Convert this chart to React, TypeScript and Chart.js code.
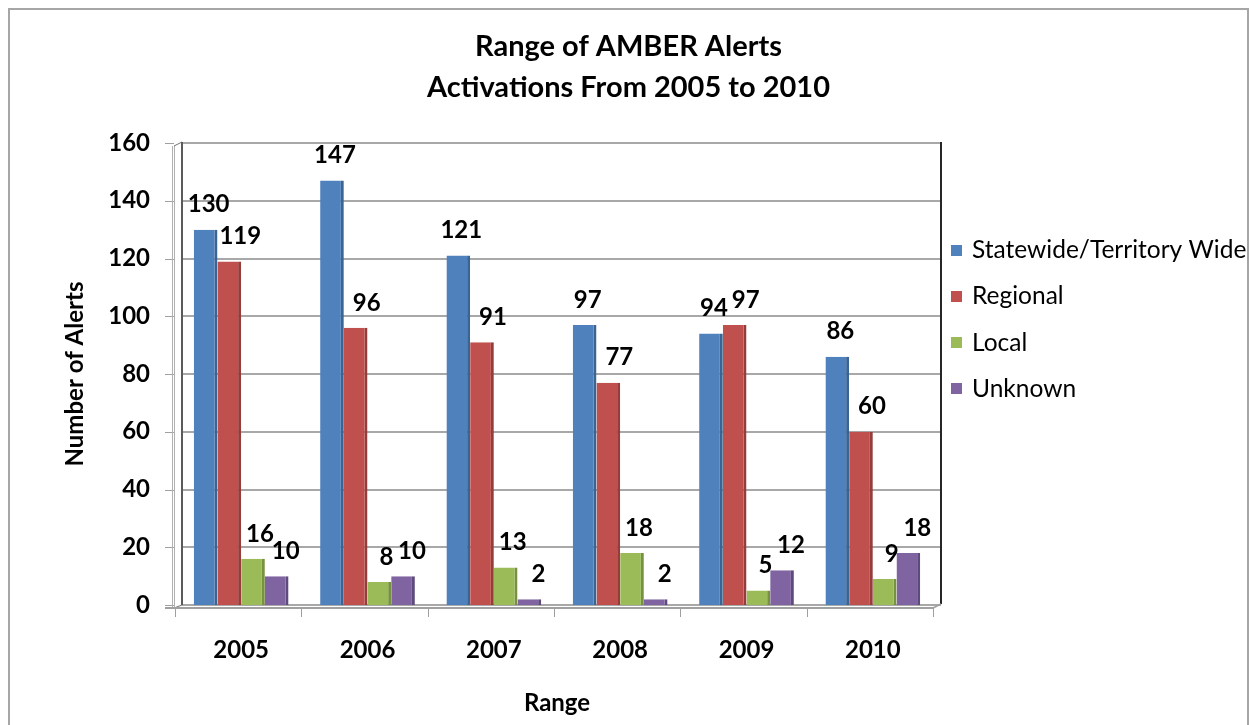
import React, { useEffect, useRef } from 'react';
import { Chart, registerables } from 'chart.js';

Chart.register(...registerables);

// ---- data ----
const categories = ['2005', '2006', '2007', '2008', '2009', '2010'];
const seriesNames = ['Statewide/Territory Wide', 'Regional', 'Local', 'Unknown'];
const statewide = [130, 147, 121, 97, 94, 86];
const regional = [119, 96, 91, 77, 97, 60];
const local = [16, 8, 13, 18, 5, 9];
const unknown = [10, 10, 2, 2, 12, 18];
const yMin = 0;
const yMax = 160;
const yStep = 20;
const titleLines = ['Range of AMBER Alerts', 'Activations From 2005 to 2010'];
const xTitle = 'Range';
const yTitle = 'Number of Alerts';

// ---- styles ----
const fillColors = ['#4F81BD', '#C0504D', '#9BBB59', '#8064A2'];
const sideColors = ['#3A6491', '#963C3A', '#77923F', '#5E4A7D'];
const labelShiftX = [3, 11, 7, 9];
const FONT = 'Lato, "Open Sans", sans-serif';
const CANVAS_W = 1237;
const CANVAS_H = 715;

const wallPlugin = {
  id: 'wall3d',
  beforeDatasetsDraw(chart: any) {
    const { ctx, chartArea } = chart;
    const { left: L, right: R, top: T, bottom: B } = chartArea;
    const ys = chart.scales.y;
    const xs = chart.scales.x;
    ctx.save();
    // back wall gridlines
    ctx.strokeStyle = '#a8a8a8';
    ctx.lineWidth = 2;
    ys.ticks.forEach((t: any) => {
      const y = Math.round(ys.getPixelForValue(t.value));
      ctx.beginPath();
      ctx.moveTo(L + 4, y);
      ctx.lineTo(R + 5, y);
      ctx.stroke();
    });
    // y tick marks
    ctx.strokeStyle = '#a0a0a0';
    ctx.lineWidth = 1;
    ys.ticks.forEach((t: any) => {
      const y = Math.round(ys.getPixelForValue(t.value)) + 0.5;
      ctx.beginPath();
      ctx.moveTo(L - 13, y);
      ctx.lineTo(L - 4, y);
      ctx.stroke();
    });
    // side wall front edges
    ctx.strokeStyle = '#b0b0b0';
    ctx.beginPath();
    ctx.moveTo(L - 5.5, T + 3);
    ctx.lineTo(L - 5.5, B + 3);
    ctx.moveTo(L - 3.5, T + 3);
    ctx.lineTo(L - 3.5, B + 3);
    ctx.stroke();
    // side wall diagonals
    ctx.strokeStyle = '#707070';
    ctx.beginPath();
    ctx.moveTo(L - 4, T + 3);
    ctx.lineTo(L + 4, T - 1);
    ctx.moveTo(L - 4, B + 3);
    ctx.lineTo(L + 4, B);
    ctx.stroke();
    // back wall left and right edges
    ctx.strokeStyle = '#5a5a5a';
    ctx.lineWidth = 2;
    ctx.beginPath();
    ctx.moveTo(L + 4, T - 1);
    ctx.lineTo(L + 4, B);
    ctx.stroke();
    ctx.strokeStyle = '#262626';
    ctx.beginPath();
    ctx.moveTo(R + 5, T - 1);
    ctx.lineTo(R + 5, B - 1);
    ctx.stroke();
    // floor front edge
    ctx.strokeStyle = '#a0a0a0';
    ctx.beginPath();
    ctx.moveTo(L - 13, B + 3);
    ctx.lineTo(R - 3, B + 3);
    ctx.stroke();
    ctx.lineWidth = 1.5;
    ctx.beginPath();
    ctx.moveTo(R - 3, B + 3);
    ctx.lineTo(R + 5, B - 1);
    ctx.stroke();
    // x tick marks at category boundaries (front plane)
    ctx.strokeStyle = '#a0a0a0';
    ctx.lineWidth = 1;
    const n = categories.length;
    const cw = (xs.right - xs.left) / n;
    for (let i = 0; i <= n; i++) {
      const x = Math.round(xs.left + i * cw - 3) + 0.5;
      ctx.beginPath();
      ctx.moveTo(x, B + 3);
      ctx.lineTo(x, B + 12);
      ctx.stroke();
    }
    ctx.restore();
  },
};

const labelPlugin = {
  id: 'valueLabels',
  afterDatasetsDraw(chart: any) {
    const { ctx } = chart;
    ctx.save();
    ctx.font = `bold 24px ${FONT}`;
    ctx.fillStyle = '#000';
    ctx.textAlign = 'center';
    ctx.textBaseline = 'middle';
    chart.data.datasets.forEach((ds: any, i: number) => {
      const meta = chart.getDatasetMeta(i);
      meta.data.forEach((bar: any, j: number) => {
        ctx.fillText(String(ds.data[j]), bar.x + labelShiftX[i], bar.y - 25);
      });
    });
    ctx.restore();
  },
};

const legendPlugin = {
  id: 'sideLegend',
  afterDraw(chart: any) {
    const { ctx, chartArea } = chart;
    ctx.save();
    ctx.font = `24.5px ${FONT}`;
    ctx.textAlign = 'left';
    ctx.textBaseline = 'middle';
    chart.data.datasets.forEach((ds: any, i: number) => {
      const y = chartArea.top + 107 + i * 46.3;
      ctx.fillStyle = ds.backgroundColor;
      ctx.fillRect(chartArea.right + 15, Math.round(y - 5.5), 11, 11);
      ctx.fillStyle = '#000';
      ctx.fillText(ds.label, chartArea.right + 36, y);
    });
    ctx.restore();
  },
};

export default function App() {
  const ref = useRef<HTMLCanvasElement | null>(null);

  useEffect(() => {
    if (!ref.current) return;
    const seriesValues = [statewide, regional, local, unknown];
    const chart = new Chart(ref.current, {
      type: 'bar',
      data: {
        labels: categories,
        datasets: seriesNames.map((name, i) => ({
          label: name,
          data: seriesValues[i],
          backgroundColor: fillColors[i],
          borderColor: sideColors[i],
          borderWidth: { top: 0, right: 3, bottom: 0, left: 0 },
          borderSkipped: false,
          categoryPercentage: 0.75,
          barPercentage: 1.0,
        })),
      },
      options: {
        responsive: false,
        animation: false,
        devicePixelRatio: 1,
        layout: { padding: 0 },
        plugins: {
          legend: { display: false },
          tooltip: { enabled: false },
          title: {
            display: true,
            text: titleLines,
            color: '#000',
            font: { family: FONT, size: 29, weight: 'bold', lineHeight: 41 / 29 },
            padding: { top: 16.5, bottom: 34.5 },
          },
        },
        scales: {
          x: {
            grid: { display: false },
            border: { display: false },
            ticks: {
              color: '#000',
              padding: 22.6,
              font: { family: FONT, size: 24, weight: 'bold' },
            },
            title: {
              display: true,
              text: xTitle,
              color: '#000',
              font: { family: FONT, size: 24, weight: 'bold', lineHeight: 1.2 },
              padding: { top: 0, bottom: 7.6 },
            },
            afterFit: (s: any) => {
              s.height = 120;
            },
          },
          y: {
            min: yMin,
            max: yMax,
            grid: { display: false },
            border: { display: false },
            ticks: {
              stepSize: yStep,
              color: '#000',
              padding: 20,
              font: { family: FONT, size: 24, weight: 'bold' },
            },
            title: {
              display: true,
              text: yTitle,
              color: '#000',
              font: { family: FONT, size: 24, weight: 'bold', lineHeight: 1.2 },
              padding: { top: 50.6, bottom: 0 },
            },
            afterFit: (s: any) => {
              s.width = 168;
            },
          },
          legendSpace: {
            type: 'linear',
            axis: 'y',
            position: 'right',
            display: true,
            grid: { display: false },
            border: { display: false },
            ticks: { display: false },
            afterFit: (s: any) => {
              s.width = 311;
            },
          },
        },
      } as any,
      plugins: [wallPlugin, labelPlugin, legendPlugin],
    });
    return () => chart.destroy();
  }, []);

  return (
    <div
      style={{
        position: 'absolute',
        left: 8,
        top: 8,
        width: 1241,
        height: 717,
        boxSizing: 'border-box',
        borderTop: '2px solid #a6a6a6',
        borderLeft: '2px solid #a6a6a6',
        borderRight: '2px solid #a6a6a6',
        background: '#fff',
      }}
    >
      <canvas
        ref={ref}
        width={CANVAS_W}
        height={CANVAS_H}
        style={{ display: 'block', width: CANVAS_W, height: CANVAS_H }}
      />
    </div>
  );
}
